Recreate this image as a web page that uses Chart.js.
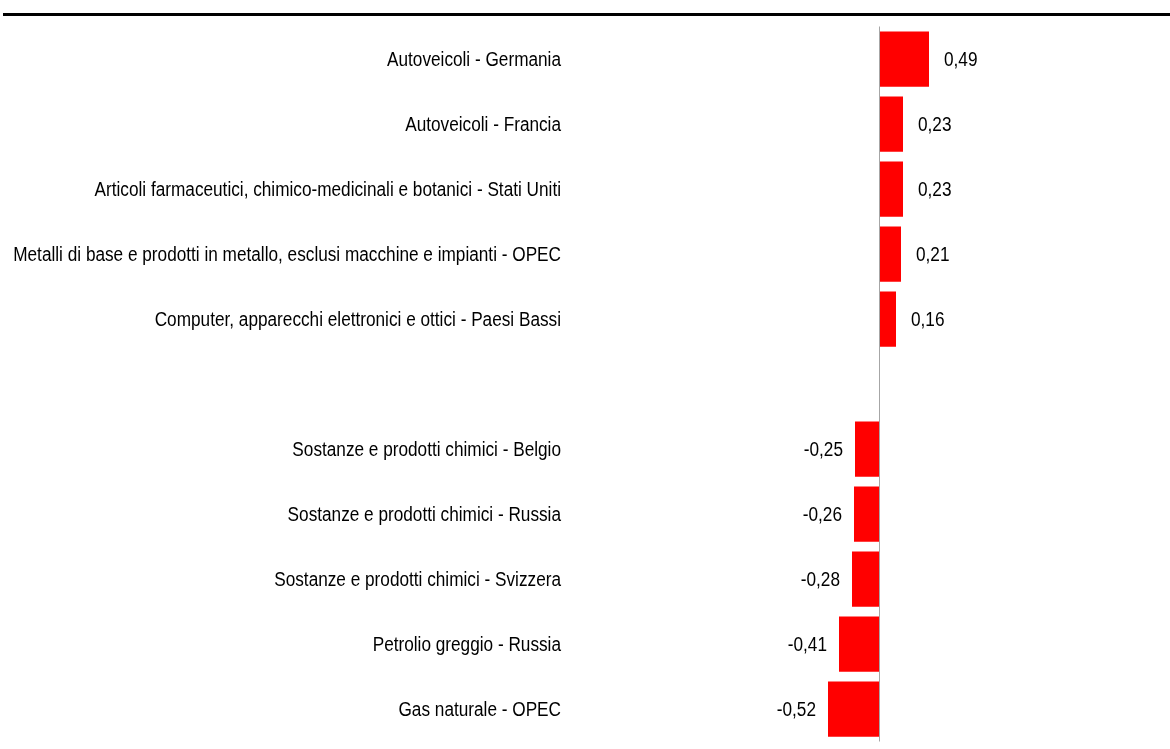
<!DOCTYPE html>
<html>
<head>
<meta charset="utf-8">
<script src="https://cdn.jsdelivr.net/npm/chart.js@4.4.1/dist/chart.umd.min.js"></script>
<style>
html,body{margin:0;padding:0;background:#fff;}
#wrap{width:1170px;height:749px;position:relative;}
</style>
</head>
<body>
<div id="wrap"><canvas id="c" width="1170" height="749"></canvas></div>
<script>
const categories = [
  "Autoveicoli - Germania",
  "Autoveicoli - Francia",
  "Articoli farmaceutici, chimico-medicinali e botanici - Stati Uniti",
  "Metalli di base e prodotti in metallo, esclusi macchine e impianti - OPEC",
  "Computer, apparecchi elettronici e ottici - Paesi Bassi",
  "",
  "Sostanze e prodotti chimici - Belgio",
  "Sostanze e prodotti chimici - Russia",
  "Sostanze e prodotti chimici - Svizzera",
  "Petrolio greggio - Russia",
  "Gas naturale - OPEC"
];
const values = [0.49, 0.23, 0.23, 0.21, 0.16, null, -0.25, -0.26, -0.28, -0.41, -0.52];

const FONT = "'Liberation Sans', Arial, sans-serif";
const SQUEEZE = 0.86;

function narrowText(ctx, txt, x, y, align) {
  ctx.save();
  ctx.translate(x, y);
  ctx.scale(SQUEEZE, 1);
  ctx.textAlign = align;
  ctx.fillText(txt, 0, 0);
  ctx.restore();
}

const decorPlugin = {
  id: 'decor',
  beforeDatasetsDraw(chart) {
    const ctx = chart.ctx;
    ctx.save();
    ctx.strokeStyle = '#000';
    ctx.lineWidth = 3;
    ctx.beginPath();
    ctx.moveTo(3, 14.5);
    ctx.lineTo(chart.width, 14.5);
    ctx.stroke();
    ctx.restore();
  },
  afterDatasetsDraw(chart) {
    const ctx = chart.ctx, x = chart.scales.x, y = chart.scales.y, a = chart.chartArea;
    const zx = Math.round(x.getPixelForValue(0)) - 0.5;
    ctx.save();
    ctx.strokeStyle = '#a6a6a6';
    ctx.lineWidth = 1;
    ctx.beginPath();
    ctx.moveTo(zx, a.top);
    ctx.lineTo(zx, a.bottom);
    ctx.stroke();
    ctx.fillStyle = '#000';
    ctx.font = '20px ' + FONT;
    ctx.textBaseline = 'middle';
    // category labels
    chart.data.labels.forEach((lab, i) => {
      if (!lab) return;
      narrowText(ctx, lab, a.left - 259, y.getPixelForTick(i) + 1, 'right');
    });
    // value labels
    const meta = chart.getDatasetMeta(0);
    meta.data.forEach((bar, i) => {
      const v = values[i];
      if (v === null || v === undefined) return;
      const txt = v.toFixed(2).replace('.', ',');
      if (v >= 0) {
        narrowText(ctx, txt, bar.x + 15, bar.y + 1, 'left');
      } else {
        narrowText(ctx, txt, bar.x - 12, bar.y + 1, 'right');
      }
    });
    ctx.restore();
  }
};

new Chart(document.getElementById('c'), {
  type: 'bar',
  data: {
    labels: categories,
    datasets: [{
      data: values,
      backgroundColor: '#ff0000',
      borderWidth: 0,
      categoryPercentage: 1,
      barPercentage: 0.85
    }]
  },
  options: {
    indexAxis: 'y',
    responsive: false,
    animation: false,
    devicePixelRatio: 1,
    layout: { padding: { top: 26.5, bottom: 7.5, left: 820, right: 0 } },
    plugins: { legend: { display: false }, tooltip: { enabled: false }, title: { display: false } },
    scales: {
      x: {
        display: false,
        min: -0.6,
        max: 2.9
      },
      y: {
        display: false
      }
    }
  },
  plugins: [decorPlugin]
});
</script>
</body>
</html>
